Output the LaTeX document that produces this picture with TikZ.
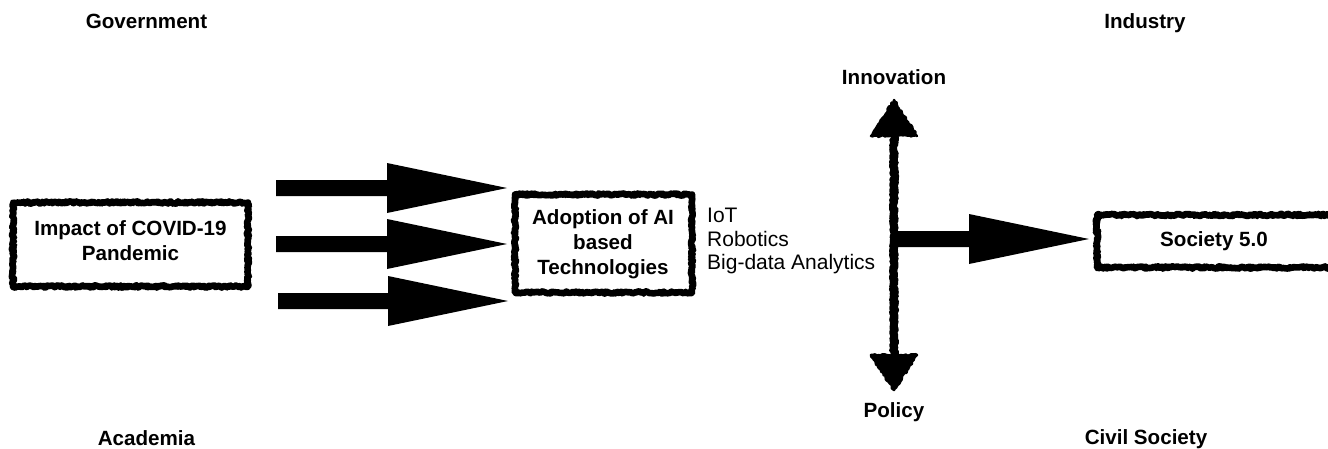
\documentclass[tikz,border=0pt]{standalone}
\usepackage{fontspec}
\setmainfont{Liberation Sans}
\usetikzlibrary{decorations.pathmorphing}
\pgfmathsetseed{7}
\tikzset{
  x=1pt,y=-1pt,
  rough/.style={draw=black,line width=6.6pt,line join=round,line cap=round,decorate,decoration={random steps,segment length=1.3pt,amplitude=1.1pt}},
  roughfill/.style={draw=black,fill=black,line width=2.5pt,line join=round,decorate,decoration={random steps,segment length=2pt,amplitude=1pt}},
  boxlabel/.style={font=\fontsize{20.6}{24.8}\selectfont\bfseries,align=center,inner sep=0pt},
  plainlabel/.style={font=\fontsize{21}{23.4}\selectfont,align=left,inner sep=0pt,anchor=north west},
  headlabel/.style={font=\fontsize{20.6}{24}\selectfont\bfseries,inner sep=0pt}
}
\newcommand{\fatarrow}[4]{% tail x, neck x, tip x, y
  \fill[black] (#1,#4-8) -- (#2,#4-8) -- (#2,#4-25) -- (#3,#4) -- (#2,#4+25) -- (#2,#4+8) -- (#1,#4+8) -- cycle;}
\begin{document}
\begin{tikzpicture}
\useasboundingbox (0,0) rectangle (1328,448);
\fill[white] (0,0) rectangle (1328,448);
\clip (0,0) rectangle (1328,448);
\node[headlabel] (gov) at (146.5,21) {Government};
\node[headlabel] (ind) at (1145,23) {Industry};
\node[headlabel] (aca) at (146.5,438) {Academia};
\node[headlabel] (civ) at (1146,439) {Civil Society};
\node[headlabel] (inn) at (894,77) {Innovation};
\node[headlabel] (pol) at (894,412) {Policy};

\draw[rough] (13,202.5) rectangle (248,286.5);
\node[boxlabel] (impact) at (130.5,240.5) {Impact of COVID-19\\Pandemic};
\draw[rough] (515,194.5) rectangle (692,292.5);
\node[boxlabel] (adopt) at (603,244.5) {Adoption of AI\\based\\Technologies};
\draw[rough] (1097,215) rectangle (1340,267.5);
\node[boxlabel] (soc) at (1214,241) {Society 5.0};
\node[plainlabel] (tech) at (707,208) {IoT\\Robotics\\Big-data Analytics};

\fatarrow{276}{387}{507}{188}
\fatarrow{276}{387}{507}{244}
\fatarrow{278}{388}{508}{301}

\coordinate (vtop) at (894,135);
\coordinate (vbot) at (894,355);
\draw[rough,line width=8pt] (vtop) -- (vbot);
\draw[roughfill] (894,100) -- (917,136) -- (871,136) -- cycle;
\draw[roughfill] (894,390) -- (917,355) -- (871,355) -- cycle;
\fatarrow{894}{969}{1089}{239}
\end{tikzpicture}
\end{document}
